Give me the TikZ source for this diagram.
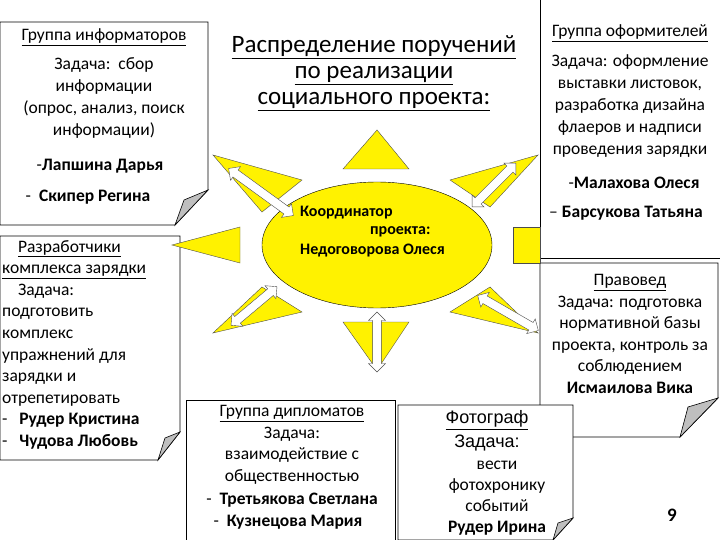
\documentclass[tikz,border=0pt]{standalone}
\usepackage{fontspec}
\setmainfont{Carlito}
\newfontfamily\arialf{Liberation Sans}
\usetikzlibrary{shapes.arrows,shapes.geometric}
\begin{document}
\begin{tikzpicture}[x=1pt,y=-1pt,
  box/.style={draw=black,fill=white,line width=0.8pt},
  ray/.style={draw=black!70,fill=yellow,line width=0.4pt},
  fold/.style={draw=black,fill=black!25,line width=0.6pt},
  dbl/.style={double arrow,draw=black!70,fill=white,minimum width=17pt,minimum height=#1,double arrow head extend=3pt,inner sep=2pt,shape border uses incircle},
  txt/.style={font=\fontsize{17.5}{21}\selectfont,align=center,inner sep=0pt},
  btxt/.style={font=\fontsize{17.5}{21}\selectfont\bfseries,inner sep=0pt}]
\useasboundingbox (0,0) rectangle (720,540);
% boxes
\draw[box] (0,22)--(208,22)--(208,190)--(175,225)--(0,225)--cycle;
\draw[fold] (208,190)--(175,225)--(184,200)--cycle;
\draw[box] (0,236)--(180,236)--(180,432)--(158,460)--(0,460)--cycle;
\draw[fold] (180,432)--(158,460)--(165,438)--cycle;
\draw[box] (540,-2)--(722,-2)--(722,258)--(540,258)--cycle;
\draw[box] (540,263)--(718,263)--(718,398)--(680,437)--(540,437)--cycle;
\draw[fold] (718,398)--(680,437)--(688,407)--cycle;
\draw[box] (186,400)--(395,400)--(395,542)--(186,542)--cycle;
\draw[box] (398,405)--(573,405)--(573,518)--(553,540)--(398,540)--cycle;
\draw[fold] (573,518)--(553,540)--(558,523)--cycle;
% sun
\draw[ray] (377,130)--(409,169)--(343,169)--cycle;
\draw[ray] (377,370)--(409,322)--(343,322)--cycle;
\draw[ray] (172,245)--(240,227)--(240,263)--cycle;
\draw[ray] (540,227)--(513,227)--(513,263)--(540,263)--cycle;
\draw[ray] (213,155)--(302,180)--(262,212)--cycle;
\draw[ray] (538,155)--(450,180)--(490,207)--cycle;
\draw[ray] (213,333)--(302,312)--(262,287)--cycle;
\draw[ray] (538,333)--(450,312)--(490,287)--cycle;
\node[ellipse,draw=black,fill=yellow,minimum width=230pt,minimum height=126pt] (sun) at (377,245) {};
\node[dbl=80pt,rotate=-36] (a1) at (261,192) {};
\node[dbl=62pt,rotate=45] (a2) at (494,185) {};
\node[dbl=60pt,rotate=40] (a3) at (254,306) {};
\node[dbl=70pt,rotate=-30] (a4) at (508,313) {};
\node[dbl=60pt,rotate=90] (a5) at (377,342) {};
% title
\node[font=\fontsize{25}{26}\selectfont,align=center] (title) at (374,73)
 {\underline{Распределение поручений}\\\underline{по реализации}\\\underline{социального проекта:}};
% coordinator
\node[btxt,anchor=west,font=\fontsize{16}{19}\selectfont\bfseries] (c1) at (300,213) {Координатор};
\node[btxt,anchor=west,font=\fontsize{16}{19}\selectfont\bfseries] (c2) at (370,232) {проекта:};
\node[btxt,anchor=west,font=\fontsize{16}{19}\selectfont\bfseries] (c3) at (300,251) {Недоговорова Олеся};
% informators
\node[txt] (i0) at (104,37) {\underline{Группа информаторов}};
\node[txt,font=\fontsize{17.5}{22}\selectfont] (i1) at (104,98) {Задача:\ \ сбор\\информации\\(опрос, анализ, поиск\\информации)};
\node[txt] (i2) at (100,166) {-\textbf{Лапшина Дарья}};
\node[txt] (i3) at (88,197) {-\ \ \textbf{Скипер Регина}};
% developers
\node[txt,anchor=north west,align=left,font=\fontsize{17.5}{21.6}\selectfont] (d0) at (2,240)
 {\ \ \ \ \underline{Разработчики}\\\underline{комплекса зарядки}\\\ \ \ \ Задача:\\подготовить\\комплекс\\упражнений для\\зарядки и\\отрепетировать\\-\ \ \ \textbf{Рудер Кристина}\\-\ \ \ \textbf{Чудова Любовь}};
% designers
\node[txt] (f0) at (630,33) {\underline{Группа оформителей}};
\node[txt,font=\fontsize{17.5}{22}\selectfont] (f1) at (630,106) {Задача: оформление\\выставки листовок,\\разработка дизайна\\флаеров и надписи\\проведения зарядки};
\node[btxt] (f2) at (634,183) {\textmd{-}Малахова Олеся};
\node[btxt] (f3) at (626,213) {\textmd{--} Барсукова Татьяна};
% jurist
\node[txt,font=\fontsize{17.5}{21.6}\selectfont] (j0) at (630,334) {\underline{Правовед}\\Задача: подготовка\\нормативной базы\\проекта, контроль за\\соблюдением\\\textbf{Исмаилова Вика}};
% diplomats
\node[txt,font=\fontsize{17.5}{21.6}\selectfont] (g0) at (292,445) {\underline{Группа дипломатов}\\Задача:\\взаимодействие с\\общественностью};
\node[btxt] (g1) at (292,500) {\textmd{-}\ \ Третьякова Светлана};
\node[btxt] (g2) at (288,522) {\textmd{-}\ \ Кузнецова Мария};
% photographer
\node[txt,font=\fontsize{18}{22}\selectfont\arialf] (p0) at (487,420) {\underline{Фотограф}};
\node[txt,font=\fontsize{18}{22}\selectfont\arialf] (p1) at (487,443) {Задача:};
\node[txt,font=\fontsize{17.5}{21}\selectfont] (p2) at (497,486) {вести\\фотохронику\\событий};
\node[btxt] (p3) at (497,528) {Рудер Ирина};
\node[font=\fontsize{19}{22}\selectfont\bfseries] (num) at (672,515) {9};
\end{tikzpicture}
\end{document}
